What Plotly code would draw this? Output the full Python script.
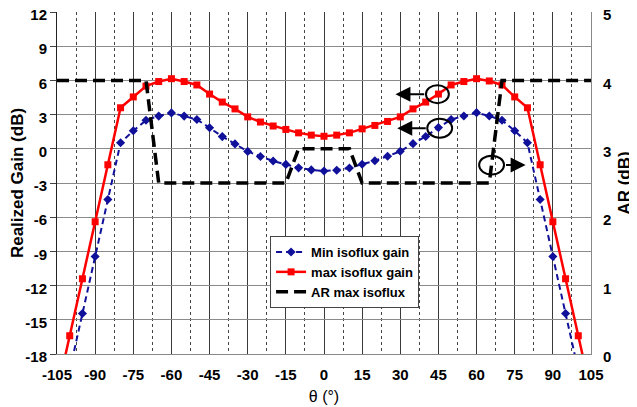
import plotly.graph_objects as go

# ---------------- data ----------------
theta = list(range(-105, 106, 5))

min_isoflux_gain = [None, -19.45, -14.45, -9.45, -4.45, 0.53, 1.58, 2.50, 2.87, 3.15,
                    2.87, 2.57, 1.84, 1.07, 0.43, -0.23, -0.67, -1.07, -1.37, -1.67,
                    -1.85, -1.95, -1.88, -1.68, -1.35, -1.05, -0.65, -0.22, 0.45, 1.08,
                    1.86, 2.57, 2.88, 3.17, 2.88, 2.50, 1.58, 0.53, -4.45, -9.45,
                    -14.45, -19.45, None]

max_isoflux_gain = [-21.4, -16.4, -11.4, -6.4, -1.4, 3.6, 4.55, 5.5, 5.9, 6.15,
                    5.9, 5.6, 4.8, 4.1, 3.5, 2.8, 2.35, 2.0, 1.7, 1.4,
                    1.2, 1.1, 1.2, 1.4, 1.75, 2.05, 2.4, 2.8, 3.5, 4.1,
                    4.8, 5.6, 5.9, 6.15, 5.95, 5.6, 4.55, 3.6, -1.4, -6.4,
                    -11.4, -16.4, -21.4]

ar_max_isoflux = [4.0, 4.0, 4.0, 4.0, 4.0, 4.0, 4.0, 4.0,
                  2.5, 2.5, 2.5, 2.5, 2.5, 2.5, 2.5, 2.5, 2.5, 2.5, 2.5,
                  3.0, 3.0, 3.0, 3.0, 3.0,
                  2.5, 2.5, 2.5, 2.5, 2.5, 2.5, 2.5, 2.5, 2.5, 2.5, 2.5,
                  4.0, 4.0, 4.0, 4.0, 4.0, 4.0, 4.0, 4.0]

x_ticks = list(range(-105, 106, 15))
gain_ticks = list(range(-18, 13, 3))
ar_ticks = [0, 1, 2, 3, 4, 5]

FONT = "Liberation Sans, Arial, sans-serif"

fig = go.Figure()

fig.add_trace(go.Scatter(
    x=theta, y=min_isoflux_gain, name="Min isoflux gain", mode="lines+markers",
    line=dict(color="#10109a", width=2, dash="6px,4px"),
    marker=dict(symbol="diamond", size=7, color="#10109a"),
    connectgaps=False,
))
fig.add_trace(go.Scatter(
    x=theta, y=max_isoflux_gain, name="max isoflux gain", mode="lines+markers",
    line=dict(color="#ff0000", width=2.5),
    marker=dict(symbol="square", size=7, color="#ff0000"),
))
fig.add_trace(go.Scatter(
    x=theta, y=ar_max_isoflux, name="AR max isoflux", mode="lines",
    line=dict(color="#000000", width=3.5, dash="12px,6px"),
    yaxis="y2",
))

# circles and arrows (annotation marks)
ellipses = [(40.1, 4.0, 49.1, 5.58), (40.6, 0.98, 50.4, 2.64), (61.0, -2.26, 70.8, -0.6)]
for (x0, y0, x1, y1) in ellipses:
    fig.add_shape(type="circle", xref="x", yref="y", x0=x0, y0=y0, x1=x1, y1=y1,
                  line=dict(color="black", width=2), layer="above")

arrows = [((40.0, 4.79), (28.1, 4.79)), ((40.6, 1.80), (28.8, 1.80)), ((71.0, -1.43), (79.3, -1.43))]
for (tail, tip) in arrows:
    fig.add_annotation(x=tip[0], y=tip[1], ax=tail[0], ay=tail[1], xref="x", yref="y",
                       axref="x", ayref="y", text="", showarrow=True, arrowhead=2,
                       arrowsize=1.5, arrowwidth=2, arrowcolor="black")

tickfont = dict(family=FONT, size=15, color="black", weight="bold")

# page body has an 8px margin: the figure is sized so the plot area lands at 57..591 x 12..354
fig.update_layout(
    width=629, height=399,
    margin=dict(l=49, r=46, t=4, b=53, autoexpand=False),
    paper_bgcolor="white", plot_bgcolor="white",
    showlegend=True,
    legend=dict(
        x=0.399, y=0.345, xanchor="left", yanchor="top",
        bgcolor="white", bordercolor="#444", borderwidth=1,
        font=dict(family=FONT, size=13, color="black", weight="bold"),
        traceorder="normal",
    ),
    xaxis=dict(
        range=[-105, 105], tickmode="array", tickvals=x_ticks,
        ticktext=[str(v) for v in x_ticks], automargin=False,
        showgrid=True, gridcolor="#3a3a3a", gridwidth=1,
        minor=dict(dtick=7.5, tick0=-97.5, showgrid=True, gridcolor="#444",
                   griddash="dot", gridwidth=1),
        showline=True, linecolor="#888", linewidth=1,
        zeroline=False, ticks="", tickfont=tickfont, ticklabelstandoff=7,
        ticklabeloverflow="allow",
        title=dict(text="θ (°)", font=dict(family=FONT, size=16, color="black"), standoff=8),
    ),
    yaxis=dict(
        range=[-18, 12], tickmode="array", tickvals=gain_ticks,
        ticktext=[str(v) for v in gain_ticks], automargin=False,
        showgrid=True, gridcolor="#8a8a8a", gridwidth=1,
        showline=True, linecolor="#222", linewidth=1,
        ticks="outside", ticklen=6, tickcolor="#444",
        zeroline=False, tickfont=tickfont, ticklabeloverflow="allow",
        ticklabelshift=3,
        title=dict(text="Realized Gain (dB)",
                   font=dict(family=FONT, size=17, color="black", weight="bold"), standoff=1),
    ),
    yaxis2=dict(
        range=[0, 5], tickmode="array", tickvals=ar_ticks,
        ticktext=[str(v) for v in ar_ticks], automargin=False,
        overlaying="y", side="right", showgrid=False,
        showline=True, linecolor="#888", linewidth=1,
        ticks="", zeroline=False, tickfont=tickfont, ticklabelstandoff=8,
        ticklabeloverflow="allow", ticklabelshift=3,
        title=dict(text="AR (dB)",
                   font=dict(family=FONT, size=17, color="black", weight="bold"), standoff=7),
    ),
)

fig.write_html("out.html")
